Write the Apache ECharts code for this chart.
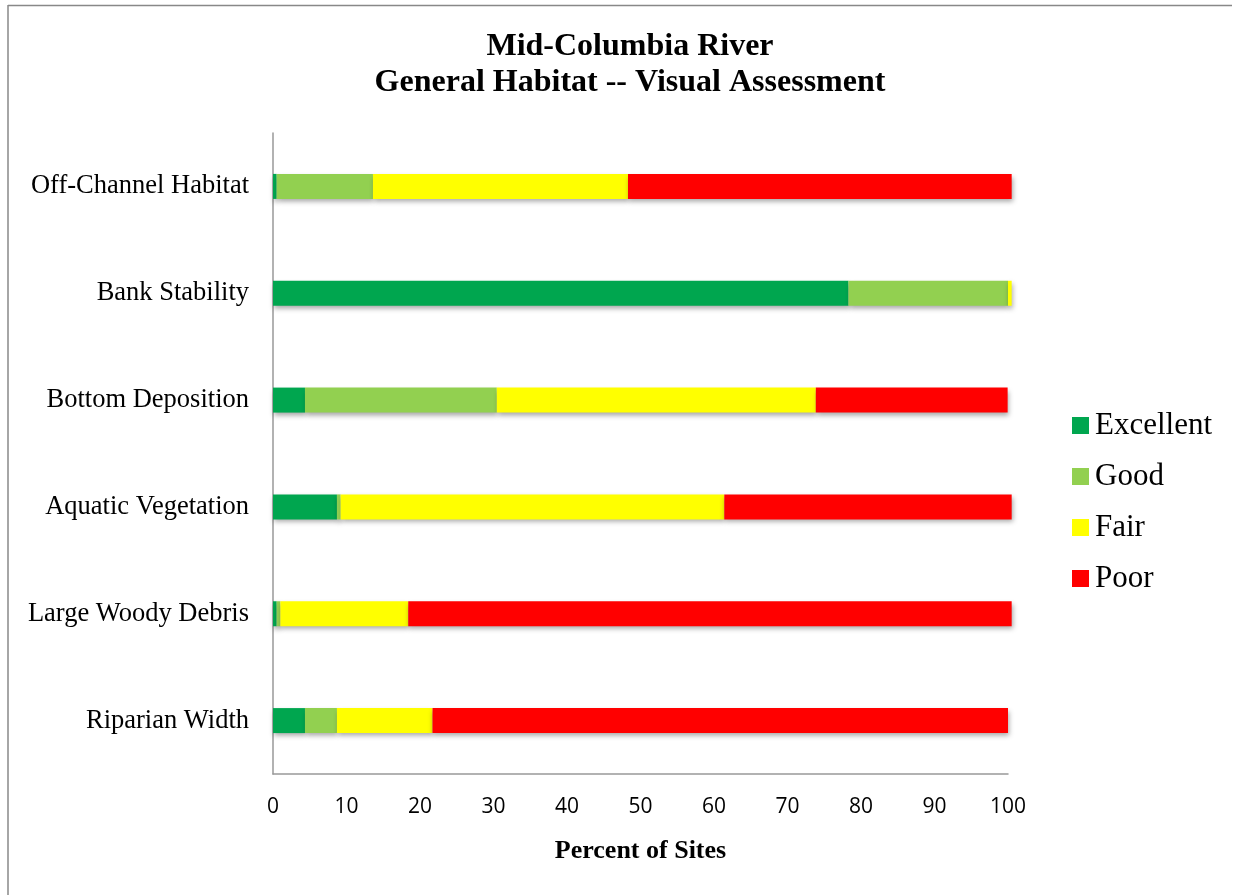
<!DOCTYPE html>
<html>
<head>
<meta charset="utf-8">
<script src="https://cdn.jsdelivr.net/npm/echarts@6/dist/echarts.min.js"></script>
<style>html,body{margin:0;padding:0;background:#fff;}#c{width:1241px;height:895px;}</style>
</head>
<body>
<div id="c"></div>
<script>
const categories = ['Riparian Width','Large Woody Debris','Aquatic Vegetation','Bottom Deposition','Bank Stability','Off-Channel Habitat'];
const excellent = [4.35, 0.5, 8.7, 4.35, 78.3, 0.5];
const good      = [4.35, 0.5, 0.5, 26.1, 21.7, 13.1];
const fair      = [13.0, 17.4, 52.2, 43.4, 0.5, 34.7];
const poor      = [78.3, 82.1, 39.1, 26.1, 0, 52.2];
const xTicks = [0,10,20,30,40,50,60,70,80,90,100];

const serif = '"Liberation Serif","Times New Roman",serif';
const colors = {Excellent:'#00A64F', Good:'#92D050', Fair:'#FFFF00', Poor:'#FF0000'};
const shadow = {shadowColor:'rgba(0,0,0,0.35)', shadowBlur:5, shadowOffsetY:3, shadowOffsetX:1};

function mk(name, data){
  return {name, type:'bar', stack:'t', data, barWidth:25, clip:false,
    itemStyle:Object.assign({color:colors[name]}, shadow),
    emphasis:{disabled:true}};
}

const chart = echarts.init(document.getElementById('c'));
chart.setOption({
  animation:false,
  backgroundColor:'#fff',
  title:{
    text:'Mid-Columbia River\nGeneral Habitat -- Visual Assessment',
    left:625, top:24, textAlign:'center',
    textStyle:{fontFamily:serif, fontSize:32, fontWeight:'bold', color:'#000', lineHeight:36}
  },
  legend:{
    orient:'vertical', left:1072, top:410, itemGap:20, padding:0,
    itemWidth:17, itemHeight:17, icon:'rect',
    data:['Excellent','Good','Fair','Poor'],
    textStyle:{fontFamily:serif, fontSize:31, color:'#000', padding:[0,0,0,1]}
  },
  grid:{left:273, right:233, top:133, bottom:121, containLabel:false},
  xAxis:{
    type:'value', min:0, max:100, interval:10,
    name:'Percent of Sites', nameLocation:'middle', nameGap:64,
    nameTextStyle:{fontFamily:serif, fontSize:26, fontWeight:'bold', color:'#000'},
    axisLine:{show:true, lineStyle:{color:'#999', width:1.5}},
    axisTick:{show:false},
    splitLine:{show:false},
    axisLabel:{fontFamily:'"Open Sans","Noto Sans",sans-serif', fontSize:21, color:'#000', margin:23,
      formatter:v=>xTicks.includes(v)?String(v):''}
  },
  yAxis:{
    type:'category', data:categories,
    axisLine:{show:true, lineStyle:{color:'#999', width:1.5}},
    axisTick:{show:false},
    axisLabel:{fontFamily:serif, fontSize:26.5, color:'#000', margin:24}
  },
  graphic:[
    {type:'line', shape:{x1:8, y1:5.5, x2:1232, y2:5.5}, style:{stroke:'#888', lineWidth:1.5}},
    {type:'line', shape:{x1:8, y1:5, x2:8, y2:895}, style:{stroke:'#888', lineWidth:1.5}}
  ],
  series:[mk('Excellent',excellent), mk('Good',good), mk('Fair',fair), mk('Poor',poor)]
});
</script>
</body>
</html>
